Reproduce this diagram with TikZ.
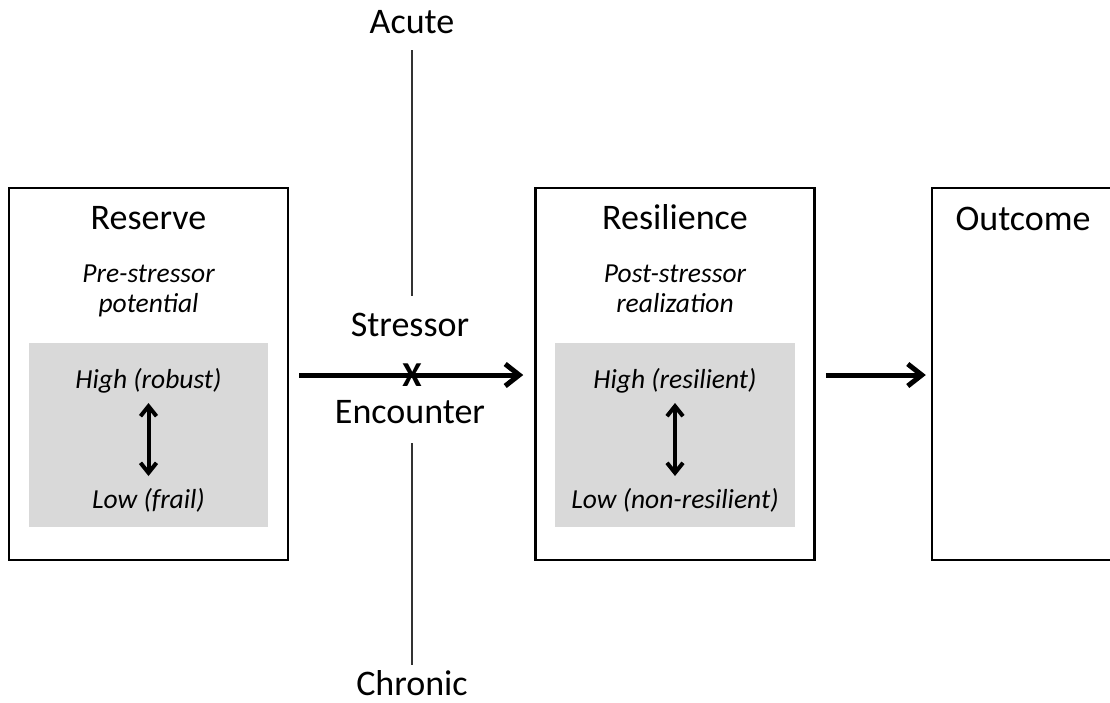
\documentclass[tikz,border=0pt]{standalone}
\usepackage{fontspec}
\setmainfont{Carlito}
\usetikzlibrary{arrows.meta}
\definecolor{panelgray}{HTML}{D9D9D9}
\tikzset{
  frame/.style={draw=black, line width=2.5pt, minimum width=279pt, minimum height=372pt, inner sep=0pt},
  panel/.style={fill=panelgray, draw=none, minimum width=239pt, minimum height=184pt, inner sep=0pt},
  title/.style={font=\fontsize{36}{40}\selectfont, inner sep=0pt, anchor=base},
  sub/.style={font=\fontsize{27.5}{30}\selectfont\itshape, inner sep=0pt, anchor=base},
  level/.style={font=\fontsize{27.5}{30}\selectfont\itshape, inner sep=0pt, anchor=base},
  flow/.style={line width=5pt, -{Straight Barb[length=14pt, width=22pt, line width=5pt]}},
  spanarrow/.style={line width=4pt, {Straight Barb[length=10pt, width=16pt, line width=4pt]}-{Straight Barb[length=10pt, width=16pt, line width=4pt]}},
  axis/.style={line width=1.3pt, draw=black!80}
}
\begin{document}
\begin{tikzpicture}[x=1pt, y=-1pt]
\useasboundingbox (0,0) rectangle (1110,702);

% Reserve column
\node[frame] (reserve) at (148.5,374) {};
\node[title] (reserveT) at (148.5,229) {Reserve};
\node[sub] (reserveS1) at (148.5,282) {Pre-stressor};
\node[sub] (reserveS2) at (148.5,312) {potential};
\node[panel] (reserveP) at (148.5,435) {};
\node[level] (rHigh) at (148.5,388) {High (robust)};
\node[level] (rLow) at (148.5,508) {Low (frail)};
\coordinate (rA) at (148.5,403);
\coordinate (rB) at (148.5,476);
\draw[spanarrow] (rA) -- (rB);

% Resilience column
\node[frame] (resil) at (675,374) {};
\node[title] (resilT) at (675,229) {Resilience};
\node[sub] (resilS1) at (675,282) {Post-stressor};
\node[sub] (resilS2) at (675,312) {realization};
\node[panel, minimum width=240pt] (resilP) at (675,435) {};
\node[level] (sHigh) at (675,388) {High (resilient)};
\node[level] (sLow) at (675,508) {Low (non-resilient)};
\coordinate (sA) at (675,403);
\coordinate (sB) at (675,476);
\draw[spanarrow] (sA) -- (sB);

% Outcome column, open on the right
\node[minimum width=182pt, minimum height=372pt, inner sep=0pt] (outcome) at (1023,374) {};
\draw[line width=2.5pt] (outcome.north east) -- (outcome.north west) -- (outcome.south west) -- (outcome.south east);
\node[title] (outT) at (1023,230) {Outcome};

% Stressor encounter
\node[title] (stressor) at (410,336) {Stressor};
\node[title] (encounter) at (410,423) {Encounter};
\node[font=\fontsize{35}{35}\selectfont\bfseries, inner sep=0pt] (cross) at (412,375) {X};
\node[title] (acute) at (412,33) {Acute};
\node[title] (chronic) at (412,695) {Chronic};
\coordinate (acuteTop) at (412,50);
\coordinate (acuteEnd) at (412,296);
\coordinate (chronicEnd) at (412,443);
\coordinate (chronicBot) at (412,665);
\draw[axis] (acuteTop) -- (acuteEnd);
\draw[axis] (chronicEnd) -- (chronicBot);

% Flow arrows
\draw[flow] ([xshift=10pt]reserve.east |- cross) -- ([xshift=-11pt]resil.west |- cross);
\draw[flow] ([xshift=10pt]resil.east |- cross) -- ([xshift=-6pt]outcome.west |- cross);
\end{tikzpicture}
\end{document}
